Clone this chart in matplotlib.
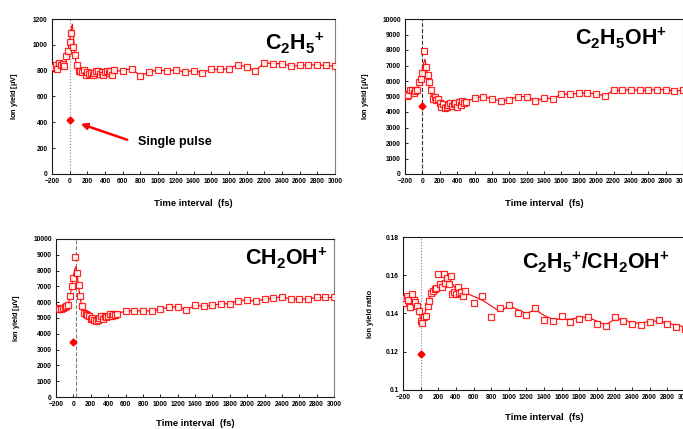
import numpy as np
import matplotlib
matplotlib.use('Agg')
import matplotlib.pyplot as plt

plt.rcParams['font.family'] = ['Liberation Sans', 'DejaVu Sans']
plt.rcParams['font.weight'] = 'bold'
plt.rcParams['mathtext.default'] = 'regular'

# delay times (fs): fine steps around zero, then 100 fs steps
t_dense = list(range(-200, 501, 20))
t_sparse = list(range(600, 3001, 100))
t_all = t_dense + t_sparse

# ---- C2H5+ ----
c2h5 = [825, 830, 840, 810, 860, 840, 850, 835, 910, 955, 1020, 1090, 985, 925, 840, 800,
        800, 790, 805, 770, 790, 775, 780, 770, 780, 800, 800, 775, 790, 770, 790, 800,
        780, 795, 765, 805,
        800, 815, 760, 790, 805, 800, 805, 790, 800, 785, 810, 810, 815, 845, 830, 800,
        860, 855, 855, 835, 840, 845, 845, 840, 835]
# ---- C2H5OH+ ----
c2h5oh = [5150, 5050, 5100, 5400, 5450, 5200, 5350, 5400, 5950, 6150, 6500, 7950, 6900, 6400,
          5950, 5400, 4850, 4950, 4800, 4850, 4550, 4350, 4500, 4250, 4350, 4450, 4550, 4400,
          4500, 4550, 4350, 4650, 4450, 4700, 4550, 4650,
          4900, 5000, 4850, 4700, 4800, 5000, 5000, 4700, 4900, 4850, 5150, 5150, 5200, 5250,
          5150, 5050, 5400, 5400, 5450, 5400, 5400, 5450, 5450, 5350, 5400]
# ---- CH2OH+ ----
ch2oh = [5650, 5600, 5600, 5550, 5650, 5700, 5750, 5800, 6400, 7000, 7550, 8850, 7850, 7100,
         6400, 5750, 5300, 5250, 5200, 5100, 4950, 5000, 4850, 4800, 4900, 5000, 5100, 4950,
         5100, 5050, 5150, 5250, 5100, 5250, 5200, 5250,
         5450, 5450, 5450, 5450, 5550, 5700, 5700, 5500, 5800, 5750, 5800, 5900, 5900, 6100,
         6150, 6050, 6200, 6250, 6350, 6200, 6200, 6200, 6300, 6300, 6300]
# ---- ratio C2H5+/CH2OH+ ----
ratio = [0.1455, 0.148, 0.149, 0.147, 0.1435, 0.150, 0.147, 0.146, 0.144, 0.1415, 0.136, 0.135,
         0.138, 0.1385, 0.144, 0.1465, 0.1505, 0.152, 0.153, 0.1535, 0.1605, 0.1555, 0.154,
         0.1605, 0.156, 0.1585, 0.1555, 0.1595, 0.150, 0.1515, 0.150, 0.154, 0.1505, 0.1515,
         0.149, 0.152,
         0.1455, 0.149, 0.138, 0.143, 0.1445, 0.140, 0.139, 0.143, 0.1365, 0.136, 0.1385,
         0.1355, 0.137, 0.138, 0.1345, 0.1335, 0.138, 0.136, 0.1345, 0.134, 0.1355, 0.1365,
         0.1345, 0.133, 0.132]

# fitted curves
fit_t = [-200, -160, -120, -80, -60, -40, -20, 0, 20, 30, 40, 60, 80, 100, 120, 160, 200,
         250, 300, 350, 400, 450, 500]
c2h5_fit = [830, 835, 840, 840, 845, 880, 950, 1040, 1130, 1160, 1080, 920, 820, 790, 785,
            785, 780, 780, 785, 785, 785, 790, 795]
c2h5oh_fit = [5150, 5200, 5300, 5350, 5450, 5800, 6300, 6800, 7250, 7400, 7100, 6300, 5600,
              5100, 4850, 4700, 4550, 4450, 4450, 4500, 4550, 4600, 4650]
ch2oh_fit = [5650, 5650, 5700, 5750, 5850, 6300, 7000, 7700, 8150, 8250, 7900, 7000, 6200,
             5700, 5400, 5200, 5050, 4950, 5000, 5050, 5150, 5200, 5250]
ratio_fit_t = [-200, -160, -120, -80, -40, -20, 0, 20, 40, 60, 80, 100, 150, 200, 250, 300,
               350, 400, 450, 500] + t_sparse
ratio_fit = [0.148, 0.149, 0.148, 0.147, 0.144, 0.141, 0.137, 0.137, 0.139, 0.142, 0.145,
             0.148, 0.152, 0.155, 0.157, 0.158, 0.156, 0.153, 0.152, 0.151,
             0.149, 0.147, 0.144, 0.141, 0.144, 0.142, 0.140, 0.142, 0.139, 0.137, 0.137,
             0.137, 0.138, 0.138, 0.136, 0.134, 0.137, 0.137, 0.135, 0.135, 0.136, 0.136,
             0.135, 0.134, 0.133]

# single pulse yields
single = [420, 4400, 3500, 0.119]

W, H = 683, 429
fig = plt.figure(figsize=(W / 100, H / 100), dpi=100)


def add_ax(l, r, t, b):
    return fig.add_axes([l / W, 1 - b / H, (r - l) / W, (b - t) / H])


panels = [
    dict(box=(52, 335, 19, 174), y=c2h5, fx=fit_t, fy=c2h5_fit + c2h5[36:], ext=True,
         sp=single[0], ylim=(0, 1200), yt=np.arange(0, 1201, 200), ytl=None,
         ylab='Ion yield [$\\mu$V]', name='$C_2H_5{}^{+}$', vx=5, vls=':', vc='0.5',
         lab_xy=(325, 43), xl_y=203, yl_x=15),
    dict(box=(405, 683, 19, 174), y=c2h5oh, fx=fit_t, fy=c2h5oh_fit + c2h5oh[36:], ext=True,
         sp=single[1], ylim=(0, 10000), yt=np.arange(0, 10001, 1000), ytl=None,
         ylab='Ion yield [$\\mu$V]', name='$C_2H_5OH^{+}$', vx=0, vls='--', vc='0.2',
         lab_xy=(667, 38), xl_y=203, yl_x=365),
    dict(box=(56, 334, 239, 397), y=ch2oh, fx=fit_t, fy=ch2oh_fit + ch2oh[36:], ext=True,
         sp=single[2], ylim=(0, 10000), yt=np.arange(0, 10001, 1000), ytl=None,
         ylab='Ion yield [$\\mu$V]', name='$CH_2OH^{+}$', vx=30, vls='--', vc='0.5',
         lab_xy=(328, 258), xl_y=424, yl_x=17),
    dict(box=(403, 685, 237, 390), y=ratio, fx=ratio_fit_t, fy=ratio_fit, ext=False,
         sp=single[3], ylim=(0.1, 0.18), yt=[0.1, 0.12, 0.14, 0.16, 0.18],
         ytl=['0.1', '0.12', '0.14', '0.16', '0.18'],
         ylab='Ion yield ratio', name='$C_2H_5{}^{+}$/$CH_2OH^{+}$', vx=0, vls=':', vc='0.5',
         lab_xy=(670, 262), xl_y=418, yl_x=370),
]

red = '#ff0000'
for p in panels:
    l, r, t, b = p['box']
    ax = add_ax(l, r, t, b)
    fx = list(p['fx']) + (t_sparse if p['ext'] else [])
    ax.plot(fx, p['fy'], '-', color=red, lw=0.8, zorder=2)
    ax.plot(t_all, p['y'], 's', mfc='white', mec=red, mew=0.9, ms=4.7, alpha=0.85, zorder=3)
    ax.plot([0], [p['sp']], 'D', color=red, ms=3.5, zorder=4)
    ax.axvline(p['vx'], color=p['vc'], ls=p['vls'], lw=0.8, zorder=1)

    ax.set_xlim(-200, 3000)
    ax.set_ylim(*p['ylim'])
    ax.set_xticks(np.arange(-200, 3001, 200))
    ax.set_yticks(p['yt'])
    if p['ytl'] is not None:
        ax.set_yticklabels(p['ytl'])
    ax.tick_params(direction='in', length=2, width=0.6, labelsize=4.8, pad=3)
    for lbl in ax.get_xticklabels() + ax.get_yticklabels():
        lbl.set_fontweight('bold')
    for s in ax.spines.values():
        s.set_linewidth(0.8)
        s.set_color('0.1')
    ax.spines['right'].set_color('0.5')

    fig.text(((l + r) / 2) / W, 1 - p['xl_y'] / H, 'Time interval  (fs)', ha='center',
             va='center', fontsize=6.8, fontweight='bold')
    fig.text(p['yl_x'] / W, 1 - ((t + b) / 2) / H, p['ylab'], ha='center', va='center',
             rotation=90, fontsize=5.3, fontweight='bold')
    fig.text(p['lab_xy'][0] / W, 1 - p['lab_xy'][1] / H, p['name'], ha='right',
             va='center', fontsize=15.5, fontweight='bold')

# annotation of the single-pulse point
ax0 = fig.axes[0]
ax0.annotate('', xy=(95, 395), xytext=(680, 258),
             arrowprops=dict(arrowstyle='-|>', color=red, lw=1.8, mutation_scale=9))
ax0.text(770, 248, 'Single pulse', fontsize=9, fontweight='bold', va='center', ha='left')

fig.savefig('out.png', dpi=100)
